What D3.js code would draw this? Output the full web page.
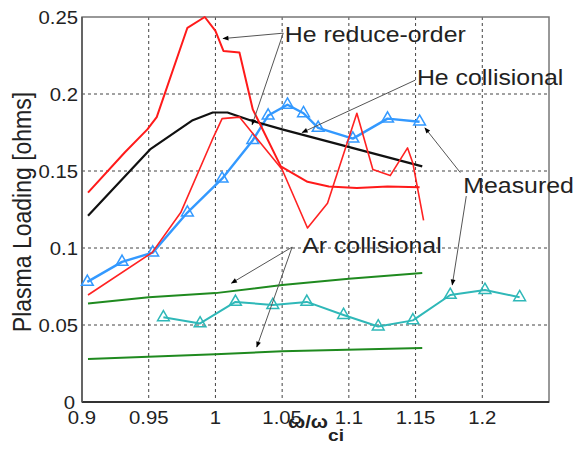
<!DOCTYPE html>
<meta charset="utf-8">
<style>
body { margin: 0; background: #fff; }
svg { display: block; font-family: "Liberation Sans", Arial, sans-serif; }
.grid line { stroke: #444; stroke-dasharray: 3,3; stroke-width: 1; }
.lbl { fill: #222; }
.note line { stroke: #555; stroke-width: 1; }
</style>
<svg width="577" height="453"></svg>
<script src="https://d3js.org/d3.v7.min.js"></script>
<script>

// He reduce-order model, two branches
var redAx = [0.9045, 0.932, 0.949, 0.956, 0.979, 0.992, 1.0, 1.006, 1.018, 1.028, 1.049, 1.069, 1.085, 1.106, 1.129, 1.153];
var redAy = [0.136, 0.162, 0.177, 0.185, 0.243, 0.250, 0.241, 0.228, 0.227, 0.190, 0.153, 0.143, 0.140, 0.139, 0.140, 0.1395];
var redBx = [0.9045, 0.9525, 0.974, 0.9975, 1.005, 1.018, 1.05, 1.069, 1.084, 1.106, 1.118, 1.131, 1.144, 1.148, 1.156];
var redBy = [0.0695, 0.097, 0.123, 0.170, 0.184, 0.185, 0.151, 0.113, 0.129, 0.1875, 0.151, 0.147, 0.165, 0.155, 0.118];

// He collisional
var heColX = [0.9045, 0.951, 0.983, 0.998, 1.009, 1.026, 1.05, 1.155];
var heColY = [0.121, 0.164, 0.183, 0.188, 0.188, 0.183, 0.177, 0.153];

// He measured
var heMeasX = [0.904, 0.930, 0.953, 0.979, 1.005, 1.028, 1.0395, 1.054, 1.066, 1.077, 1.103, 1.129, 1.153];
var heMeasY = [0.078, 0.091, 0.097, 0.123, 0.145, 0.170, 0.186, 0.193, 0.1875, 0.178, 0.171, 0.184, 0.182];

// Ar measured
var arMeasX = [0.961, 0.9885, 1.015, 1.043, 1.0685, 1.096, 1.122, 1.148, 1.176, 1.202, 1.228];
var arMeasY = [0.055, 0.051, 0.065, 0.063, 0.065, 0.0565, 0.049, 0.053, 0.0695, 0.0727, 0.068];

// Ar collisional, two lines
var arHiX = [0.9045, 0.95, 1.0, 1.05, 1.1, 1.155];
var arHiY = [0.064, 0.068, 0.0707, 0.076, 0.080, 0.0837];
var arLoX = [0.9045, 1.0, 1.05, 1.155];
var arLoY = [0.028, 0.031, 0.033, 0.035];

var xTicks = [0.9, 0.95, 1, 1.05, 1.1, 1.15, 1.2];
var yTicks = [0, 0.05, 0.1, 0.15, 0.2, 0.25];

// annotation text anchors and arrow tips, in data units
var notes = [
  { text: "He reduce-order", at: [1.052, 0.2337], from: [1.0508, 0.2395], tips: [[1.0057, 0.236], [1.0275, 0.180]] },
  { text: "He collisional", at: [1.151, 0.2057], from: [1.1498, 0.209], tips: [[1.065, 0.175]] },
  { text: "Measured", at: [1.1858, 0.1356], from: null, tips: [] },
  { text: "Ar collisional", at: [1.065, 0.0967], from: [1.0575, 0.1006], tips: [[1.012, 0.0772], [1.031, 0.0357]] }
];
var measArrows = [
  { from: [1.1835, 0.149], tip: [1.157, 0.178] },
  { from: [1.188, 0.1337], tip: [1.1775, 0.076] }
];

var svg = d3.select("svg");
var pLeft = 82, pRight = 549, pTop = 17, pBottom = 402;
var stretch = 1.13;

var x = d3.scaleLinear().domain([0.9, 1.25]).range([pLeft, pRight]);
var y = d3.scaleLinear().domain([0, 0.25]).range([pBottom, pTop]);

var defs = svg.append("defs");
defs.append("marker")
    .attr("id", "head")
    .attr("viewBox", "0 0 10 10")
    .attr("refX", 9).attr("refY", 5)
    .attr("markerWidth", 7).attr("markerHeight", 6)
    .attr("orient", "auto")
    .attr("markerUnits", "userSpaceOnUse")
  .append("path")
    .attr("d", "M0,1L10,5L0,9z")
    .attr("fill", "#000");

// grid
var grid = svg.append("g").attr("class", "grid");
grid.selectAll(".gx").data(xTicks.slice(1)).enter().append("line")
    .attr("x1", function(d) { return x(d); }).attr("x2", function(d) { return x(d); })
    .attr("y1", pTop).attr("y2", pBottom);
grid.selectAll(".gy").data(yTicks.slice(1, 5)).enter().append("line")
    .attr("x1", pLeft).attr("x2", pRight)
    .attr("y1", function(d) { return y(d); }).attr("y2", function(d) { return y(d); });

// box
svg.append("rect")
    .attr("x", pLeft).attr("y", pTop)
    .attr("width", pRight - pLeft).attr("height", pBottom - pTop)
    .attr("fill", "none").attr("stroke", "#777").attr("stroke-width", 1.5);
svg.append("line")
    .attr("x1", pLeft).attr("x2", pRight).attr("y1", pBottom).attr("y2", pBottom)
    .attr("stroke", "#333").attr("stroke-width", 2);
svg.append("line")
    .attr("x1", pLeft).attr("x2", pLeft).attr("y1", pTop).attr("y2", pBottom)
    .attr("stroke", "#555").attr("stroke-width", 1.5);

// tick labels
svg.selectAll(".xt").data(xTicks).enter().append("text")
    .attr("class", "lbl")
    .attr("transform", function(d) { return "translate(" + x(d) + ",424) scale(" + stretch + ",1)"; })
    .attr("text-anchor", "middle")
    .attr("font-size", 18)
    .text(function(d) { return d; });
svg.selectAll(".yt").data(yTicks).enter().append("text")
    .attr("class", "lbl")
    .attr("transform", function(d) { return "translate(" + (d === 0 ? 75 : 78) + "," + (y(d) + 7) + ") scale(" + stretch + ",1)"; })
    .attr("text-anchor", "end")
    .attr("font-size", 18)
    .text(function(d) { return d; });

// axis titles
svg.append("text")
    .attr("class", "lbl")
    .attr("transform", "translate(31,212) rotate(-90) scale(1," + stretch + ")")
    .attr("text-anchor", "middle")
    .attr("font-size", 23)
    .text("Plasma Loading [ohms]");
var xt = svg.append("text")
    .attr("class", "lbl")
    .attr("transform", "translate(288,428) scale(" + stretch + ",1)")
    .attr("font-size", 18)
    .attr("font-weight", "bold");
xt.append("tspan").text("ω/ω");
xt.append("tspan").attr("dy", 13).attr("font-size", 17).text("ci");

// series
function pts(xs, ys) { return xs.map(function(d, i) { return [d, ys[i]]; }); }
var line = d3.line().x(function(d) { return x(d[0]); }).y(function(d) { return y(d[1]); });

var series = [
  { p: pts(arHiX, arHiY), color: "#1f8a1f", w: 2 },
  { p: pts(arLoX, arLoY), color: "#1f8a1f", w: 2 },
  { p: pts(arMeasX, arMeasY), color: "#2fb8b8", w: 2, marks: true },
  { p: pts(heMeasX, heMeasY), color: "#3399ff", w: 2.4, marks: true },
  { p: pts(heColX, heColY), color: "#111", w: 2.2 },
  { p: pts(redBx, redBy), color: "#ff2222", w: 1.6 },
  { p: pts(redAx, redAy), color: "#ff1a1a", w: 2 }
];

series.forEach(function(s) {
  svg.append("path")
      .datum(s.p)
      .attr("d", line)
      .attr("fill", "none")
      .attr("stroke", s.color)
      .attr("stroke-width", s.w)
      .attr("stroke-linejoin", "round");
  if (s.marks) {
    svg.selectAll(null).data(s.p).enter().append("path")
        .attr("d", d3.symbol(d3.symbolTriangle, 60))
        .attr("transform", function(d) { return "translate(" + x(d[0]) + "," + y(d[1]) + ")"; })
        .attr("fill", "none")
        .attr("stroke", s.color)
        .attr("stroke-width", 1.5);
  }
});

// annotations
var note = svg.append("g").attr("class", "note");
notes.forEach(function(n) {
  n.tips.forEach(function(t) {
    note.append("line")
        .attr("x1", x(n.from[0])).attr("y1", y(n.from[1]))
        .attr("x2", x(t[0])).attr("y2", y(t[1]))
        .attr("marker-end", "url(#head)");
  });
  note.append("text")
      .attr("class", "lbl")
      .attr("transform", "translate(" + x(n.at[0]) + "," + y(n.at[1]) + ") scale(" + stretch + ",1)")
      .attr("font-size", 22)
      .text(n.text);
});
measArrows.forEach(function(a) {
  note.append("line")
      .attr("x1", x(a.from[0])).attr("y1", y(a.from[1]))
      .attr("x2", x(a.tip[0])).attr("y2", y(a.tip[1]))
      .attr("marker-end", "url(#head)");
});

</script>
